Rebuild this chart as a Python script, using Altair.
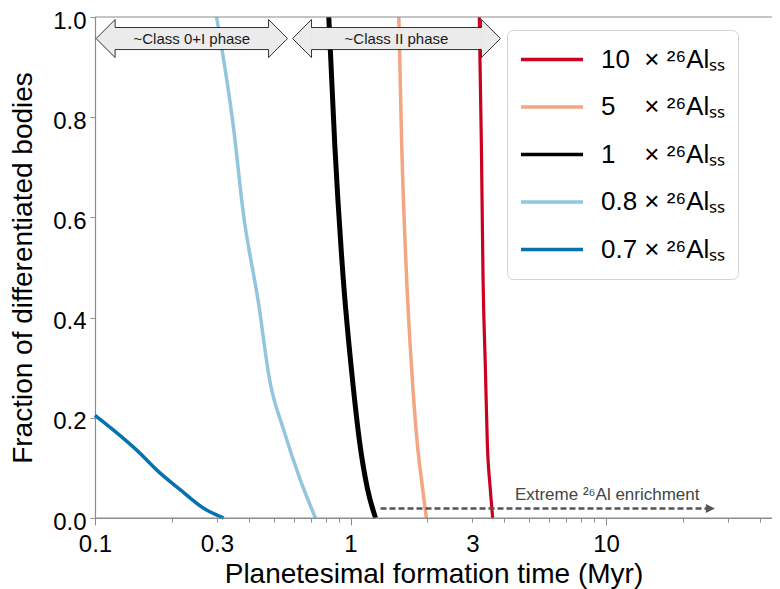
import altair as alt
import pandas as pd

# ---------------- data ----------------
series_labels = [
    "10\u00a0 \u00d7 \u00b2\u2076Al\u209b\u209b",
    "5\u00a0\u00a0\u00a0 \u00d7 \u00b2\u2076Al\u209b\u209b",
    "1\u00a0\u00a0\u00a0 \u00d7 \u00b2\u2076Al\u209b\u209b",
    "0.8 \u00d7 \u00b2\u2076Al\u209b\u209b",
    "0.7 \u00d7 \u00b2\u2076Al\u209b\u209b",
]

t_10 = [3.19, 3.25, 3.30, 3.37, 3.43, 3.52, 3.60]
f_10 = [1.0, 0.75, 0.48, 0.30, 0.15, 0.06, 0.0]

t_5 = [1.545, 1.585, 1.657, 1.733, 1.824, 1.913, 1.98]
f_5 = [1.0, 0.75, 0.48, 0.30, 0.15, 0.06, 0.0]

t_1 = [0.822, 0.868, 0.936, 1.016, 1.087, 1.163, 1.253]
f_1 = [1.0, 0.743, 0.479, 0.280, 0.149, 0.06, 0.0]

t_08 = [0.299, 0.349, 0.380, 0.436, 0.483, 0.548, 0.637, 0.729]
f_08 = [1.0, 0.776, 0.611, 0.43, 0.274, 0.175, 0.075, 0.0]

t_07 = [0.1, 0.1185, 0.146, 0.175, 0.216, 0.267, 0.319]
f_07 = [0.205, 0.175, 0.135, 0.095, 0.056, 0.019, 0.0]

phase_labels = ["~Class 0+I phase", "~Class II phase"]
phase_start = [0.101, 0.593]
phase_end = [0.567, 3.86]

ext_label = ["Extreme \u00b2\u2076Al enrichment"]
ext_start = [1.31]
ext_end = [25.6]
ext_label_x = [10.1]

x_tick_values = [0.1, 0.2, 0.3, 0.4, 0.5, 0.6, 0.7, 0.8, 0.9,
                 1, 2, 3, 4, 5, 6, 7, 8, 9, 10, 20, 30, 40]
x_major_values = [0.1, 1, 10]
y_tick_values = [0.0, 0.2, 0.4, 0.6, 0.8, 1.0]

# ---------------- styles ----------------
colors = ["#ca0020", "#f4a582", "#000000", "#92c5de", "#0571b0"]
widths = [3.2, 3.5, 5.0, 3.5, 3.5]
FONT = "Liberation Sans"
AXIS_GRAY = "#8c8c8c"

rows = []
for lab, ts, fs, w in zip(series_labels, [t_10, t_5, t_1, t_08, t_07],
                          [f_10, f_5, f_1, f_08, f_07], widths):
    for t, f in zip(ts, fs):
        rows.append({"t": t, "f": f, "series": lab, "sw": w})
df = pd.DataFrame(rows)

ARROW_Y = 0.957
ARROW_HALF = 0.022
phases = pd.DataFrame({
    "label": phase_labels,
    "start": phase_start,
    "end": phase_end,
})
phases["mid"] = (phases["start"] * phases["end"]) ** 0.5
phases["yc"] = ARROW_Y
phases["lo"] = ARROW_Y - ARROW_HALF
phases["hi"] = ARROW_Y + ARROW_HALF

ext = pd.DataFrame({"label": ext_label, "x0": ext_start, "x1": ext_end,
                    "xl": ext_label_x})
ext["y"] = 0.019
ext["yl"] = 0.036

xscale = alt.Scale(type="log", domain=[0.1, 44.6], nice=False)
yscale = alt.Scale(domain=[0, 1], nice=False, zero=False)

label_test = "indexof([0.1,0.3,1,3,10], datum.value) >= 0 ? format(datum.value, '~g') : ''"

axis_x_main = alt.Axis(
    orient="bottom", values=x_tick_values, labelExpr=label_test,
    tickSize=4, tickColor=AXIS_GRAY, domain=True, domainColor=AXIS_GRAY, domainWidth=1.2,
    labelFontSize=24, labelPadding=10, labelColor="black", labelFont=FONT,
    labelFlush=False, labelOverlap=False, grid=False,
    title="Planetesimal formation time (Myr)", titleFontSize=28,
    titleFontWeight="normal", titleFont=FONT, titleColor="black", titlePadding=4,
)
axis_x_major = alt.Axis(
    orient="bottom", values=x_major_values, tickSize=7, tickColor=AXIS_GRAY,
    labels=False, domain=False, grid=False, title=None,
)
axis_y = alt.Axis(
    orient="left", values=y_tick_values, format=".1f", tickSize=5, tickColor=AXIS_GRAY,
    domain=True, domainColor=AXIS_GRAY, domainWidth=1.2, labelFontSize=24, labelPadding=4,
    labelOffset=4, labelColor="black", labelFont=FONT, grid=False,
    title="Fraction of differentiated bodies", titleFontSize=28,
    titleFontWeight="normal", titleFont=FONT, titleColor="black", titlePadding=15,
)

legend = alt.Legend(
    title=None, orient="none", legendX=412, legendY=13,
    symbolType="stroke", symbolSize=3844, symbolStrokeWidth=3.5, clipHeight=35,
    rowPadding=12.5, labelOffset=16, labelFontSize=26, labelFont=FONT,
    labelColor="black", labelLimit=400, padding=12,
    strokeColor="#d4d4d4", fillColor="white", cornerRadius=6,
)

lines = alt.Chart(df).mark_line(interpolate="monotone").encode(
    x=alt.X("t:Q", scale=xscale, axis=axis_x_main),
    y=alt.Y("f:Q", scale=yscale, axis=axis_y),
    color=alt.Color("series:N", scale=alt.Scale(domain=series_labels, range=colors),
                    legend=legend, sort=series_labels),
    strokeWidth=alt.StrokeWidth("sw:Q", scale=None),
)

frame = pd.DataFrame({"v": [0.0, 1.0]})
frame_rules = alt.Chart(frame).mark_rule(color=AXIS_GRAY, strokeWidth=1.2).encode(
    y=alt.Y("v:Q", axis=None)
)

ARROW_FILL = "#ebebeb"
shaft = alt.Chart(phases).mark_rect(
    fill=ARROW_FILL, stroke="black", strokeWidth=0.8, xOffset=18, x2Offset=-18
).encode(
    x=alt.X("start:Q", axis=axis_x_major),
    x2="end:Q",
    y=alt.Y("lo:Q", axis=None),
    y2="hi:Q",
)

LEFT_HEAD = "M1,-0.58L1,-1L0,0L1,1L1,0.58"
RIGHT_HEAD = "M-1,-0.58L-1,-1L0,0L-1,1L-1,0.58"
head_left = alt.Chart(phases).mark_point(
    shape=LEFT_HEAD, size=1444, filled=True, fill=ARROW_FILL, stroke="black",
    strokeWidth=0.8, opacity=1
).encode(x=alt.X("start:Q", axis=None), y=alt.Y("yc:Q", axis=None))
head_right = alt.Chart(phases).mark_point(
    shape=RIGHT_HEAD, size=1444, filled=True, fill=ARROW_FILL, stroke="black",
    strokeWidth=0.8, opacity=1
).encode(x=alt.X("end:Q", axis=None), y=alt.Y("yc:Q", axis=None))

phase_text = alt.Chart(phases).mark_text(
    fontSize=15, font=FONT, color="#1a1a1a", baseline="middle", align="center"
).encode(x=alt.X("mid:Q", axis=None), y=alt.Y("yc:Q", axis=None), text="label:N")

ext_line = alt.Chart(ext).mark_rule(
    color="#555555", strokeWidth=2.5, strokeDash=[6, 3]
).encode(x=alt.X("x0:Q", axis=None), x2="x1:Q", y=alt.Y("y:Q", axis=None))

ext_head = alt.Chart(ext).mark_point(
    shape="M-1,-1L1,0L-1,1Z", size=81, filled=True, color="#555555", opacity=1
).encode(x=alt.X("x1:Q", axis=None), y=alt.Y("y:Q", axis=None))

ext_text = alt.Chart(ext).mark_text(
    fontSize=17, font=FONT, color="#444444", baseline="alphabetic", align="center"
).encode(x=alt.X("xl:Q", axis=None), y=alt.Y("yl:Q", axis=None), text="label:N")

chart = alt.layer(
    lines, frame_rules, shaft, head_left, head_right, phase_text,
    ext_line, ext_head, ext_text
).resolve_axis(x="independent", y="independent").properties(
    width=677, height=501,
    autosize=alt.AutoSizeParams(type="none"),
    padding={"left": 87, "top": 9, "right": 0, "bottom": 71},
).configure(font=FONT).configure_view(strokeWidth=0)

chart.save("out.html", embed_options={"renderer": "svg", "actions": False})
